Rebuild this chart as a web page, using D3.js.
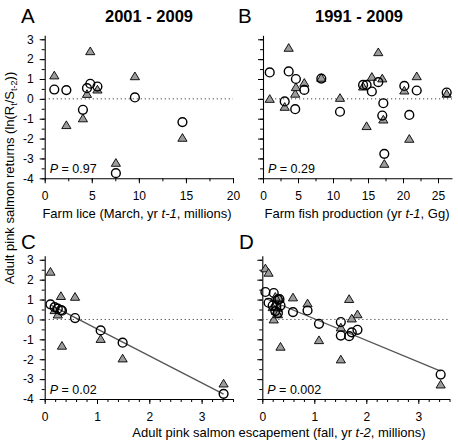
<!DOCTYPE html>
<html><head><meta charset="utf-8">
<script src="https://cdn.jsdelivr.net/npm/d3@7"></script>
<style>
html,body{margin:0;padding:0;background:#fff;}
svg{display:block;font-family:"Liberation Sans",Arial,sans-serif;}
</style></head>
<body><svg id="c" width="458" height="446"></svg>
<script>
// ---- Data: panels A & C (2001-2009) ----
const liceA   = [1.02, 2.30, 4.06, 4.49, 4.84, 5.60, 7.56, 9.58, 14.63];
const escA    = [0.31, 0.33, 1.07, 0.25, 0.11, 0.19, 3.42, 0.58, 1.49];
const circA   = [0.47, 0.44, -0.55, 0.54, 0.76, 0.62, -3.74, 0.07, -1.17];
const triA    = [1.16, -1.34, -1.00, 0.23, 2.38, 0.45, -3.24, 1.12, -1.98];
// ---- Data: panels B & D (1991-2009) ----
const prodB   = [0.96, 3.10, 3.67, 4.60, 4.70, 5.90, 8.33, 11.0, 14.3, 14.8, 15.55, 16.47, 17.04, 17.19, 17.33, 20.19, 20.9, 21.96, 26.24];
const escB    = [0.22, 1.51, 0.06, 1.83, 0.30, 0.87, 0.33, 1.72, 0.20, 0.35, 0.59, 0.12, 1.67, 1.09, 3.43, 0.27, 1.51, 0.25, 0.30];
const circB   = [1.33, -0.13, 1.38, -0.52, 1.00, 0.45, 1.02, -0.65, 0.70, 0.70, 0.37, 0.84, -0.84, -0.22, -2.77, 0.65, -0.81, 0.42, 0.32];
const triB    = [-0.02, -0.42, 2.55, 0.24, 0.57, 0.79, 1.04, 0.03, 0.60, -1.39, 1.09, 2.33, 1.01, -1.06, -3.29, 0.40, -2.03, 1.12, 0.24];
// ---- Labels ----
const pLabels = ["0.97", "0.29", "0.02", "0.002"];
const panelLetters = ["A", "B", "C", "D"];
const periodTitles = ["2001 - 2009", "1991 - 2009"];
const yTicksMajor = [-4, -3, -2, -1, 0, 1, 2, 3];

const svg = d3.select("#c");
const FONT = 12;

const panels = [
  {id:"A", x:liceA, c:circA, t:triA, xd:[0,20], xr:[44.7,233], yr:[178.3,35.3], xMaj:[0,5,10,15,20], xMin:d3.range(0,20.01,2.5), yLab:true, fit:false, p:pLabels[0]},
  {id:"B", x:prodB, c:circB, t:triB, xd:[0,27], xr:[263,452], yr:[178.3,35.3], xMaj:[0,5,10,15,20,25], xMin:d3.range(0,27.01,2.5), yLab:false, fit:false, p:pLabels[1]},
  {id:"C", x:escA, c:circA, t:triA, xd:[0,3.6], xr:[44.7,233], yr:[399,255.8], xMaj:[0,1,2,3], xMin:d3.range(0,3.601,0.2), yLab:true, fit:true, p:pLabels[2]},
  {id:"D", x:escB, c:circB, t:triB, xd:[0,3.6], xr:[262.3,449.5], yr:[399,255.8], xMaj:[0,1,2,3], xMin:d3.range(0,3.601,0.2), yLab:false, fit:true, p:pLabels[3]}
];

const triPath = "M0,-4.6L4.6,3.1L-4.6,3.1Z";

panels.forEach(P => {
  const x = d3.scaleLinear().domain(P.xd).range(P.xr);
  const y = d3.scaleLinear().domain([-4, 3.2]).range(P.yr);
  const g = svg.append("g");
  const y0 = y(-4), x0 = x(0);

  // minor y ticks
  const yMin = d3.range(-4, 3.01, 0.5);
  g.append("g").attr("transform",`translate(${x0},0)`)
    .call(d3.axisLeft(y).tickValues(yMin).tickSize(3).tickFormat(""))
    .call(a=>a.select(".domain").remove());
  // major y ticks
  const ay = g.append("g").attr("transform",`translate(${x0},0)`)
    .call(d3.axisLeft(y).tickValues(yTicksMajor).tickSize(5).tickSizeOuter(0).tickPadding(6)
      .tickFormat(P.yLab ? (d=>String(d)) : ""));
  ay.selectAll("text").attr("font-size",FONT).attr("font-family",null);
  // minor x ticks
  g.append("g").attr("transform",`translate(0,${y0})`)
    .call(d3.axisBottom(x).tickValues(P.xMin).tickSize(3).tickFormat(""))
    .call(a=>a.select(".domain").remove());
  const ax = g.append("g").attr("transform",`translate(0,${y0})`)
    .call(d3.axisBottom(x).tickValues(P.xMaj).tickSize(5).tickSizeOuter(0).tickPadding(8).tickFormat(d=>String(d)));
  ax.selectAll("text").attr("font-size",FONT).attr("font-family",null);
  g.selectAll(".domain").attr("stroke","#000").attr("stroke-width",1.1);
  g.selectAll(".tick line").attr("stroke","#000");

  // zero dotted line
  g.append("line").attr("x1",x(P.xd[0])).attr("x2",x(P.xd[1])).attr("y1",y(0)).attr("y2",y(0))
    .attr("stroke","#444").attr("stroke-width",1).attr("stroke-dasharray","1.2,2.8");

  // regression line on circles
  if (P.fit) {
    const n = P.x.length;
    const mx = d3.mean(P.x), my = d3.mean(P.c);
    let sxy=0, sxx=0;
    for (let i=0;i<n;i++){ sxy += (P.x[i]-mx)*(P.c[i]-my); sxx += (P.x[i]-mx)**2; }
    const b = sxy/sxx, a = my - b*mx;
    const [lo,hi] = d3.extent(P.x);
    g.append("line").attr("x1",x(lo)).attr("y1",y(a+b*lo)).attr("x2",x(hi)).attr("y2",y(a+b*hi))
      .attr("stroke","#555").attr("stroke-width",1.3);
  }

  // triangles
  g.selectAll("path.tri").data(P.x.map((v,i)=>[v,P.t[i]])).join("path")
    .attr("class","tri").attr("d",triPath)
    .attr("transform",d=>`translate(${x(d[0])},${y(d[1])})`)
    .attr("fill","#9c9c9c").attr("stroke","#000").attr("stroke-width",0.9);
  // circles
  g.selectAll("circle").data(P.x.map((v,i)=>[v,P.c[i]])).join("circle")
    .attr("cx",d=>x(d[0])).attr("cy",d=>y(d[1])).attr("r",4.4)
    .attr("fill","none").attr("stroke","#000").attr("stroke-width",1.4);

  // P label
  const pt = g.append("text").attr("x",x0+5).attr("y",y0-5).attr("font-size",12.5);
  pt.append("tspan").attr("font-style","italic").text("P");
  pt.append("tspan").text(" = " + P.p);
});

// panel letters
const letterPos = [[21,23],[238,23],[21,248.5],[239,248.5]];
panelLetters.forEach((L,i)=>{
  svg.append("text").attr("x",letterPos[i][0]).attr("y",letterPos[i][1]).attr("font-size",20.5).text(L);
});
// titles
svg.append("text").attr("x",149).attr("y",22).attr("text-anchor","middle").attr("font-size",16.5).attr("font-weight","bold").text(periodTitles[0]);
svg.append("text").attr("x",359).attr("y",22).attr("text-anchor","middle").attr("font-size",16.5).attr("font-weight","bold").text(periodTitles[1]);

// axis titles
function labelWithItalic(xp, yp, pre, it, post){
  const t = svg.append("text").attr("x",xp).attr("y",yp).attr("text-anchor","middle").attr("font-size",13);
  t.append("tspan").text(pre);
  t.append("tspan").attr("font-style","italic").text(it);
  t.append("tspan").text(post);
}
labelWithItalic(137, 218, "Farm lice (March, yr ", "t-1", ", millions)");
labelWithItalic(357, 218, "Farm fish production (yr ", "t-1", ", Gg)");
labelWithItalic(279, 437, "Adult pink salmon escapement (fall, yr ", "t-2", ", millions)");

// y axis title
const yt = svg.append("text").attr("transform","translate(13.5,178) rotate(-90)").attr("text-anchor","middle").attr("font-size",13);
yt.append("tspan").text("Adult pink salmon returns (ln(R");
yt.append("tspan").attr("font-size",9).attr("dy",3).text("t");
yt.append("tspan").attr("dy",-3).text("/S");
yt.append("tspan").attr("font-size",9).attr("dy",3).text("t-2");
yt.append("tspan").attr("dy",-3).text("))");
</script>
</body></html>
